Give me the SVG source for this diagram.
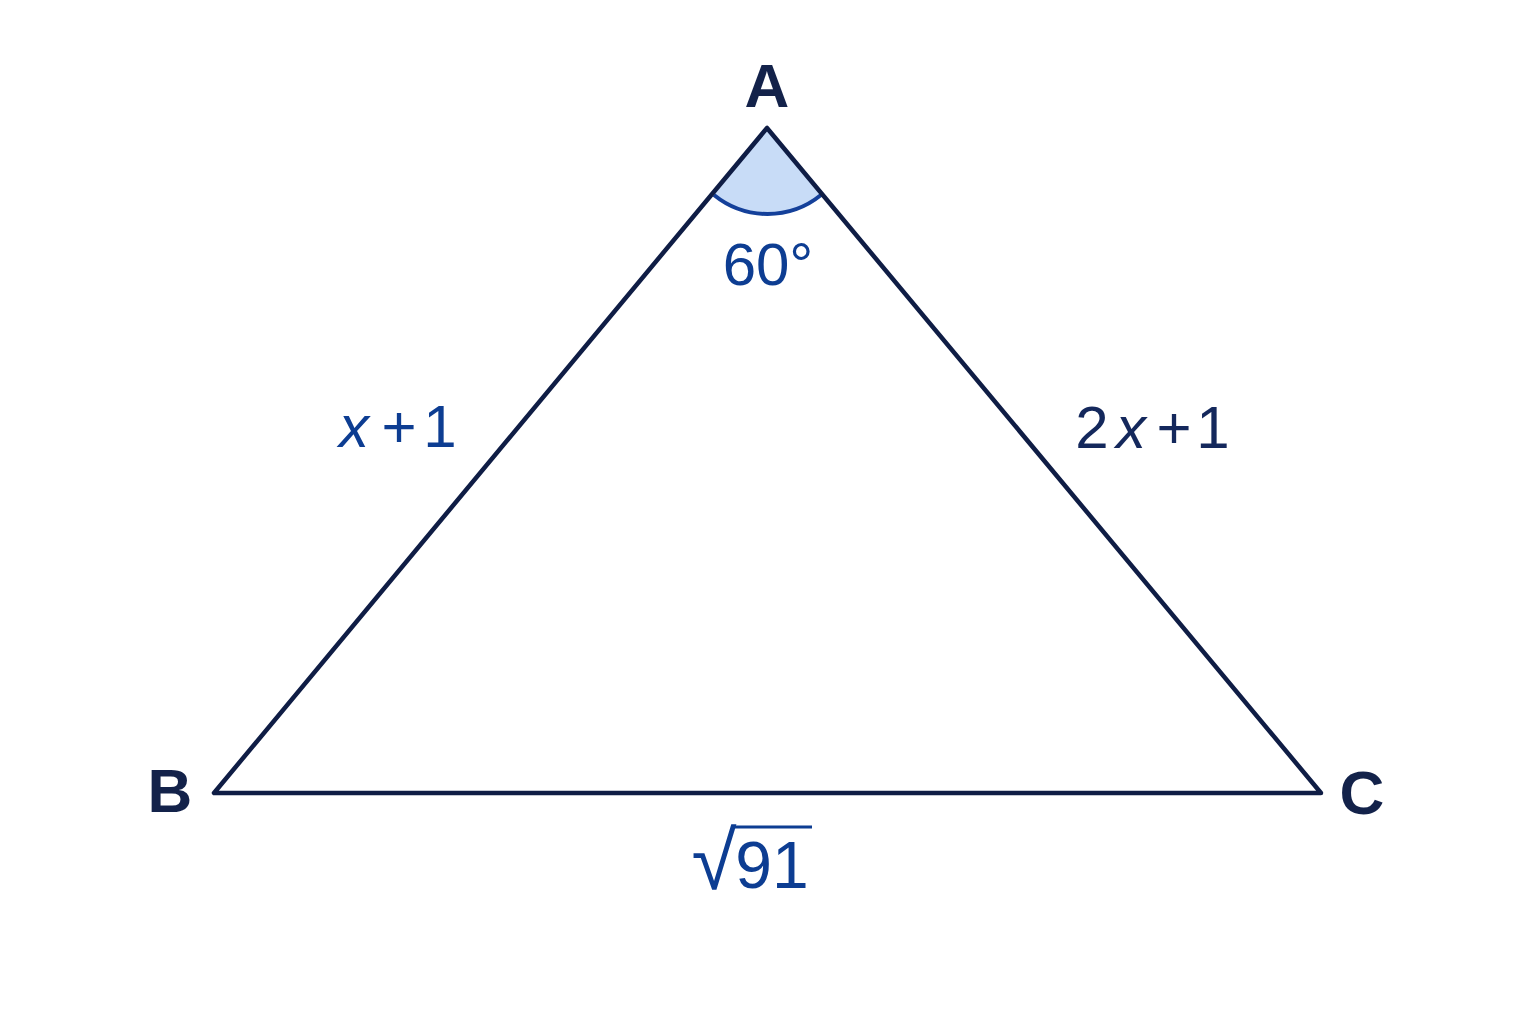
<svg xmlns="http://www.w3.org/2000/svg" width="1536" height="1024" viewBox="0 0 1536 1024">
<style>
.vtx{font-family:"Liberation Sans","DejaVu Sans",sans-serif;font-size:62px;font-weight:bold;fill:#13224a;text-anchor:middle}
.lbl{font-family:"Liberation Sans","DejaVu Sans",sans-serif;font-size:60px;text-anchor:middle}
.blue{fill:#0d3d92}
.navy{fill:#14285c}
.it{font-style:italic}
</style>
<rect width="1536" height="1024" fill="#ffffff"/>
<g id="angle">
<path d="M767,128 L714,195 A85,85 0 0 0 821,195 Z" fill="#c8dcf7"/>
<path d="M714,195 A85,85 0 0 0 821,195" fill="none" stroke="#14409a" stroke-width="4"/>
</g>
<g id="edges">
<polygon points="767,128 214,793 1321,793" fill="none" stroke="#0f1d45" stroke-width="4.5" stroke-linejoin="round"/>
</g>
<g id="A"><text class="vtx" x="767" y="107">A</text></g>
<g id="B"><text class="vtx" x="170" y="812">B</text></g>
<g id="C"><text class="vtx" x="1362" y="814">C</text></g>
<g id="angle-label"><text class="lbl blue" x="768" y="285">60°</text></g>
<g id="label-AB">
<text class="lbl blue it" x="354" y="447">x</text>
<text class="lbl blue" x="399" y="447">+</text>
<text class="lbl blue" x="440" y="447">1</text>
</g>
<g id="label-AC">
<text class="lbl navy" x="1092" y="448">2</text>
<text class="lbl navy it" x="1131" y="448">x</text>
<text class="lbl navy" x="1174" y="448">+</text>
<text class="lbl navy" x="1213" y="448">1</text>
</g>
<g id="label-BC">
<text class="lbl blue" x="714" y="889" style="font-size:82px">√</text>
<line x1="733" y1="827" x2="812" y2="827" stroke="#0d3d92" stroke-width="3"/>
<text class="lbl blue" x="772" y="888" style="font-size:66px">91</text>
</g>
</svg>
